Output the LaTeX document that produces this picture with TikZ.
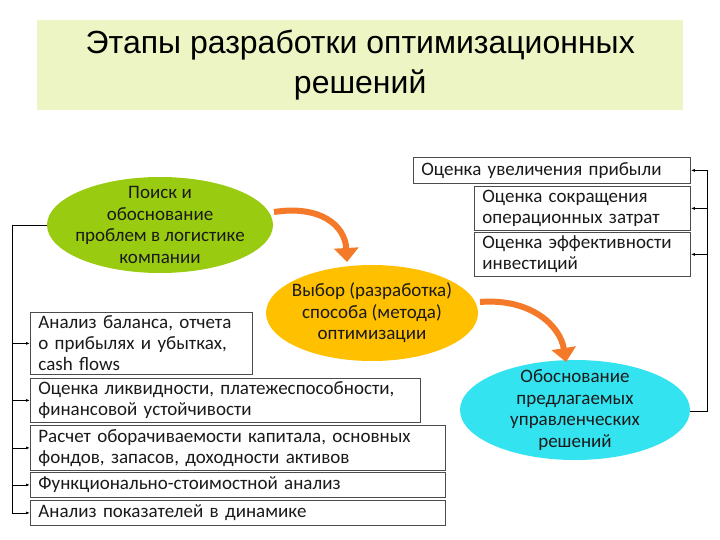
\documentclass[tikz,border=0pt]{standalone}
\usepackage{fontspec}
\setmainfont{Carlito}
\newfontfamily\titlefont{Liberation Sans}
\usetikzlibrary{arrows.meta,shapes.geometric}
\definecolor{titlebg}{HTML}{EEF5C4}
\definecolor{ogreen}{HTML}{99CC11}
\definecolor{oyellow}{HTML}{FFC000}
\definecolor{ocyan}{HTML}{33E3F0}
\definecolor{oorange}{HTML}{F47A2A}
\definecolor{txt}{HTML}{1A1A1A}
\tikzset{
 box/.style={draw=black!70,line width=0.8pt,fill=white,anchor=north west,align=left,inner xsep=8pt,inner ysep=0pt,font=\fontsize{19}{21}\selectfont,text=txt},
 ell/.style={align=center,font=\fontsize{19}{21.5}\selectfont,text=txt},
 conn/.style={line width=0.8pt,-{Latex[length=4pt,width=3pt]}},
 bigarrow/.style={oorange,line width=6pt,-{Triangle[length=14pt,width=24pt]}}
}
\begin{document}
\begin{tikzpicture}[x=1pt,y=-1pt]
\useasboundingbox (0,0) rectangle (720,540);
\fill[white] (0,0) rectangle (720,540);
\node[fill=titlebg,minimum width=646pt,minimum height=90pt,anchor=north west,inner sep=0pt,align=center,font=\titlefont\fontsize{32}{40}\selectfont] (title) at (37,20) {Этапы разработки оптимизационных\\решений};
\fill[ogreen] (160,225) ellipse (113 and 48);
\node[ell] (g) at (160,225) {Поиск и\\обоснование\\проблем в логистике\\компании};
\fill[oyellow] (372,313) ellipse (106 and 48);
\node[ell] (y) at (372,313) {Выбор (разработка)\\способа (метода)\\оптимизации};
\fill[ocyan] (575,410) ellipse (115 and 50);
\node[ell] (c) at (575,410) {Обоснование\\предлагаемых\\управленческих\\решений};
\coordinate (gl) at (47,225);
\coordinate (cr) at (690,411);
\draw[bigarrow] (274,212) .. controls (320,205) and (345,225) .. (347,262);
\draw[bigarrow] (480,302) .. controls (530,298) and (560,325) .. (566,362);
% right boxes
\node[box,text width=261pt,minimum height=26pt] (r1) at (413,157) {Оценка увеличения прибыли};
\node[box,text width=200pt,minimum height=44pt] (r2) at (474,186) {Оценка сокращения\\операционных затрат};
\node[box,text width=200pt,minimum height=44pt] (r3) at (474,232) {Оценка эффективности\\инвестиций};
% left boxes
\node[box,text width=206pt,minimum height=62pt] (l1) at (30,312) {Анализ баланса, отчета\\о прибылях и убытках,\\cash flows};
\node[box,text width=374pt,minimum height=44pt] (l2) at (30,378) {Оценка ликвидности, платежеспособности,\\финансовой устойчивости};
\node[box,text width=399pt,minimum height=45pt] (l3) at (30,425) {Расчет оборачиваемости капитала, основных\\фондов, запасов, доходности активов};
\node[box,text width=399pt,minimum height=25pt] (l4) at (30,472) {Функционально-стоимостной анализ};
\node[box,text width=399pt,minimum height=25pt] (l5) at (30,500) {Анализ показателей в динамике};
% left connectors
\coordinate (lb) at (12,225);
\draw[line width=0.8pt] (gl) -- (lb);
\foreach \n in {l1,l2,l3,l4,l5}{\draw[conn] (lb) |- (\n.west);}
% right connectors
\coordinate (rb) at (707,411);
\draw[line width=0.8pt] (cr) -- (rb) -- (707,170);
\foreach \n in {r1,r2,r3}{\draw[conn] (rb) |- (\n.east);}
\end{tikzpicture}
\end{document}
